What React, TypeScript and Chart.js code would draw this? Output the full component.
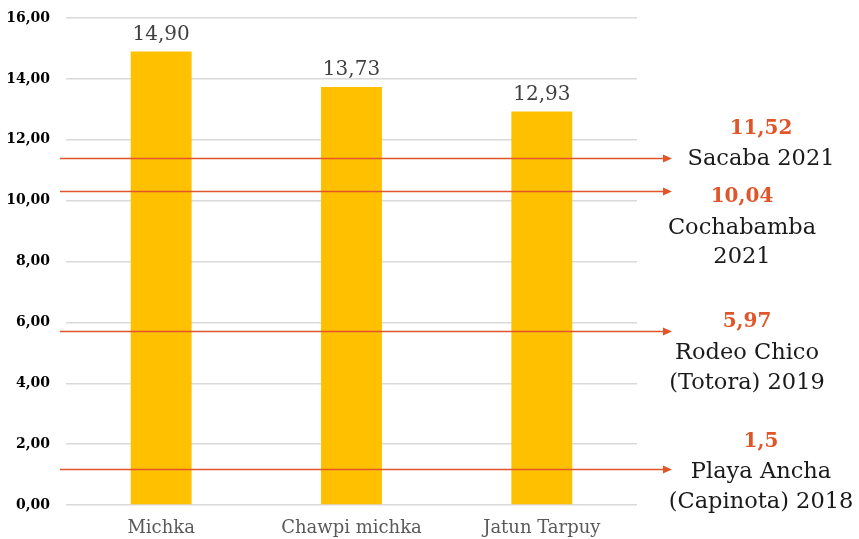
import React, { useEffect, useRef } from "react";
import { Chart, registerables } from "chart.js";

Chart.register(...registerables);

const categories = ["Michka", "Chawpi michka", "Jatun Tarpuy"];
const values = [14.9, 13.73, 12.93];
const valueLabels = ["14,90", "13,73", "12,93"];
const yTickValues = [0, 2, 4, 6, 8, 10, 12, 14, 16];

// reference lines (levels as drawn in the picture) with their labels
const refLevels = [11.4, 10.32, 5.72, 1.18];
const refNumbers = ["11,52", "10,04", "5,97", "1,5"];
const refNames = [["Sacaba 2021"], ["Cochabamba", "2021"], ["Rodeo Chico", "(Totora) 2019"], ["Playa Ancha", "(Capinota) 2018"]];

const FONT = "'DejaVu Serif', serif";
const ORANGE = "#E0562A";
const PLOT_TOP = 18;

const fixTopPlugin = {
  id: "fixTop",
  afterLayout(chart: any) {
    const y = chart.scales.y;
    const ca = chart.chartArea;
    ca.top = PLOT_TOP;
    ca.height = ca.bottom - PLOT_TOP;
    y.top = PLOT_TOP;
    y.height = y.bottom - PLOT_TOP;
    y.configure();
  },
};

const overlayPlugin = {
  id: "overlay",
  afterDatasetsDraw(chart: any) {
    const { ctx, chartArea, scales } = chart;
    const y = scales.y;
    ctx.save();
    // value labels
    const meta = chart.getDatasetMeta(0);
    ctx.font = `20px ${FONT}`;
    ctx.fillStyle = "#404040";
    ctx.textAlign = "center";
    ctx.textBaseline = "bottom";
    meta.data.forEach((bar: any, i: number) => {
      ctx.fillText(valueLabels[i], bar.x, bar.y - 7);
    });
    // reference arrows
    const x0 = chartArea.left - 6;
    const x1 = chartArea.right + 35;
    refLevels.forEach((lv) => {
      const py = Math.round(y.getPixelForValue(lv)) + 0.5;
      ctx.strokeStyle = ORANGE;
      ctx.lineWidth = 1.5;
      ctx.beginPath();
      ctx.moveTo(x0, py);
      ctx.lineTo(x1 - 6, py);
      ctx.stroke();
      ctx.fillStyle = ORANGE;
      ctx.beginPath();
      ctx.moveTo(x1, py);
      ctx.lineTo(x1 - 9, py - 4);
      ctx.lineTo(x1 - 9, py + 4);
      ctx.closePath();
      ctx.fill();
    });
    // annotation text
    const blocks = [
      { cx: 761, ys: [129, 159] },
      { cx: 742, ys: [197, 228, 257] },
      { cx: 747, ys: [322, 353, 383] },
      { cx: 761, ys: [442, 472, 502] },
    ];
    ctx.textBaseline = "middle";
    blocks.forEach((b, i) => {
      ctx.font = `bold 20px ${FONT}`;
      ctx.fillStyle = ORANGE;
      ctx.fillText(refNumbers[i], b.cx, b.ys[0]);
      ctx.font = `22.5px ${FONT}`;
      ctx.fillStyle = "#1a1a1a";
      refNames[i].forEach((t, j) => ctx.fillText(t, b.cx, b.ys[j + 1]));
    });
    ctx.restore();
  },
};

export default function App() {
  const ref = useRef<HTMLCanvasElement>(null);
  useEffect(() => {
    document.body.style.margin = "0";
    const chart = new Chart(ref.current!, {
      type: "bar",
      data: {
        labels: categories,
        datasets: [
          {
            data: values,
            backgroundColor: "#FFC000",
            barPercentage: 0.32,
            categoryPercentage: 1,
          },
        ],
      },
      options: {
        animation: false,
        responsive: false,
        maintainAspectRatio: false,
        layout: { padding: { top: 18, right: 222, left: 0, bottom: 0 } },
        plugins: { legend: { display: false }, tooltip: { enabled: false } },
        scales: {
          x: {
            grid: { display: false },
            border: { display: false },
            ticks: { font: { family: FONT, size: 18 }, color: "#595959", padding: 5 },
            afterFit: (s: any) => {
              s.height = 34;
            },
          },
          y: {
            min: 0,
            max: 16,
            afterBuildTicks: (s: any) => {
              s.ticks = yTickValues.map((v) => ({ value: v }));
            },
            grid: { color: "#d9d9d9", lineWidth: 1.5, drawTicks: false },
            border: { display: false },
            ticks: {
              font: { family: FONT, size: 14, weight: "bold" },
              color: "#000",
              padding: 16,
              callback: (v: any) => Number(v).toFixed(2).replace(".", ","),
            },
            afterFit: (s: any) => {
              s.width = 66;
            },
          },
        },
      },
      plugins: [fixTopPlugin, overlayPlugin],
    });
    return () => chart.destroy();
  }, []);
  return (
    <div style={{ width: 859, height: 539 }}>
      <canvas ref={ref} width={859} height={539} />
    </div>
  );
}
